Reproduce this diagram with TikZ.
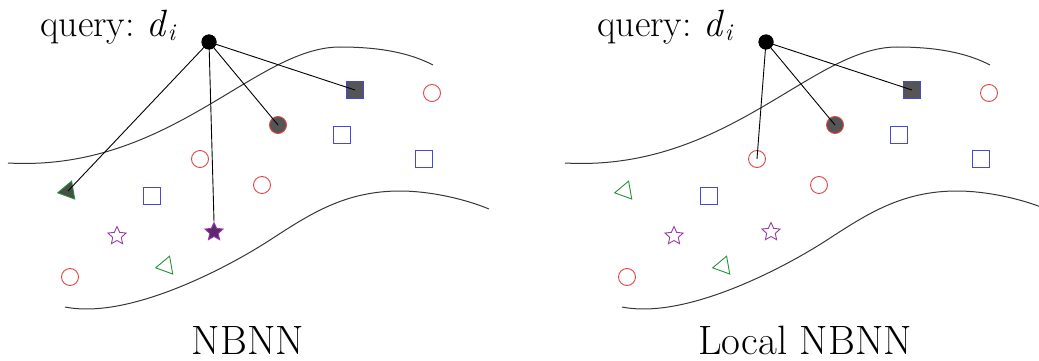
\documentclass[tikz,border=0pt]{standalone}
\usepackage{fontspec}
\usetikzlibrary{shapes.geometric}
\definecolor{ptred}{RGB}{222,68,68}
\definecolor{ptblue}{RGB}{70,70,225}
\definecolor{ptgreen}{RGB}{40,145,60}
\definecolor{ptpurple}{RGB}{150,60,170}
\definecolor{hitfill}{RGB}{85,85,85}
\definecolor{hitstar}{RGB}{95,40,110}
\definecolor{hittri}{RGB}{70,80,70}
\definecolor{curvegray}{RGB}{55,55,55}

% curves, sample points and the query of one panel
\newcommand\panelbody[2]{%
  \draw[boundary] (8,163) .. controls (170,172) and (255,47) .. (340,47)
                          .. controls (380,47) and (410,53) .. (433,65);
  \draw[boundary] (65,307) .. controls (130,320) and (230,266) .. (270,240)
                           .. controls (310,214) and (345,191) .. (400,191)
                           .. controls (430,191) and (465,199) .. (489,209);
  \node[sq, fill=hitfill] (s1) at (355,90) {};
  \node[circ] (c1) at (432,93) {};
  \node[circ, fill=hitfill] (c2) at (278,125) {};
  \node[sq] (s2) at (342,135) {};
  \node[circ] (c3) at (200,159) {};
  \node[sq] (s3) at (424,159) {};
  \node[circ] (c4) at (262,185) {};
  \node[tri, #1] (t1) at (68,191) {};
  \node[sq] (s4) at (152,196) {};
  \node[starmk] (st1) at (117,236) {};
  \node[starmk, #2] (st2) at (214,232) {};
  \node[tri] (t2) at (166,266) {};
  \node[circ] (c5) at (70,277) {};
  \node[query] (q) at (209,42) {};
  \node[qlabel] (ql) at (40,37) {query:\hspace{12pt}\textit{d}\raisebox{-4pt}{\fontsize{24}{24}\selectfont\textit{i}}};
}

\begin{document}
\begin{tikzpicture}[x=1pt, y=-1pt,
  boundary/.style={draw=curvegray, line width=1pt},
  link/.style={draw=black, line width=0.9pt},
  mk/.style={inner sep=0pt, line width=0.9pt},
  circ/.style={mk, circle, draw=ptred, minimum size=17pt},
  sq/.style={mk, rectangle, draw=ptblue, minimum size=16.5pt},
  tri/.style={mk, regular polygon, regular polygon sides=3, draw=ptgreen,
              minimum size=21pt, shape border rotate=-20},
  starmk/.style={mk, star, star points=5, star point ratio=2.1,
                 draw=ptpurple, minimum size=19pt},
  query/.style={circle, fill=black, inner sep=0pt, minimum size=15pt},
  qlabel/.style={anchor=base west, inner sep=0pt, font=\fontsize{38}{38}\selectfont},
  caption/.style={anchor=base, inner sep=0pt, font=\fontsize{41}{41}\selectfont}]
  \useasboundingbox (0,0) rectangle (1039,361);

  % left panel: nearest neighbour of every class
  \begin{scope}[name prefix=a-]
    \panelbody{fill=hittri}{fill=hitstar}
    \draw[link] (q.center) -- (s1.center);
    \draw[link] (q.center) -- (c2.center);
    \draw[link] (q.center) -- (t1.center);
    \draw[link] (q.center) -- (st2.north);
    \node[query] at (q) {};
    \node[caption] (cap) at (248,354) {NBNN};
  \end{scope}

  % right panel: only the local neighbourhood
  \begin{scope}[xshift=557pt, name prefix=b-]
    \panelbody{}{}
    \draw[link] (q.center) -- (s1.center);
    \draw[link] (q.center) -- (c2.center);
    \draw[link] (q.center) -- (c3.center);
    \node[query] at (q) {};
    \node[caption] (cap) at (248,354) {Local NBNN};
  \end{scope}
\end{tikzpicture}
\end{document}
